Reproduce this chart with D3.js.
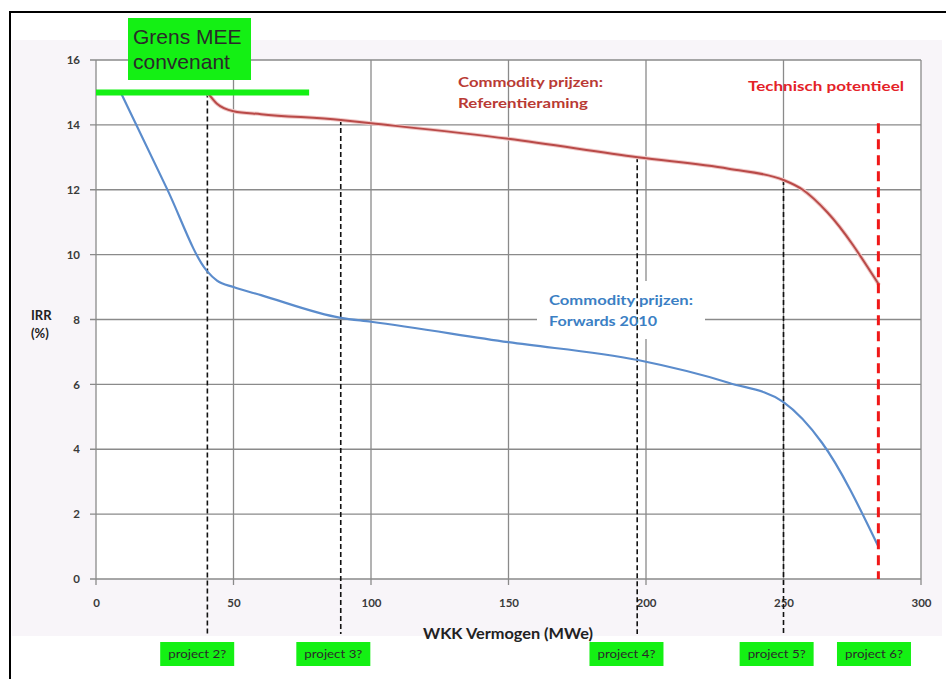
<!DOCTYPE html>
<html>
<head>
<meta charset="utf-8">
<script src="https://cdn.jsdelivr.net/npm/d3@7"></script>
<style>
  html, body { margin: 0; padding: 0; background: #ffffff; }
  svg { display: block; font-family: "Lato", "Open Sans", sans-serif; }
</style>
</head>
<body>
<svg id="chart" width="946" height="679"></svg>
<script>
// WKK capacity (MWe) vs IRR (%) under two commodity price scenarios
const xTicks = [0, 50, 100, 150, 200, 250, 300];
const yTicks = [0, 2, 4, 6, 8, 10, 12, 14, 16];

// Scenario "Referentieraming"
const refCapacity = [40.5, 44, 50, 60, 89, 100, 150, 197, 230, 250, 257, 266, 284.5];
const refIRR      = [15.0, 14.65, 14.42, 14.33, 14.15, 14.05, 13.57, 13.0, 12.65, 12.3, 12.0, 11.3, 9.1];

// Scenario "Forwards 2010"
const fwdCapacity = [9, 25.7, 40.3, 44, 50, 60, 89, 100, 150, 197, 230, 250, 264, 284.5];
const fwdIRR      = [15.0, 12.05, 9.5, 9.2, 9.0, 8.75, 8.05, 7.93, 7.3, 6.75, 6.05, 5.45, 4.2, 1.0];

// Candidate projects: dashed marker position, top of marker (IRR), label centre
const projectNames  = ["project 2?", "project 3?", "project 4?", "project 5?", "project 6?"];
const projectX      = [40.5, 89, 196.8, 250, null];
const projectTopIRR = [15.0, 14.15, 13.0, 12.3, null];
const projectLabelX = [36.8, 86.3, 192.9, 247.5, 282.9];

// Technical potential and MEE covenant limit
const technicalPotential = 284.5;
const technicalTopIRR = 14.05;
const meeLimitIRR = 15;
const meeLimitEnd = 77.5;

const svg = d3.select("#chart");

// frame and chart area
svg.append("rect").attr("x", 12).attr("y", 40).attr("width", 930).attr("height", 596)
  .attr("fill", "#f8f5f9");
svg.append("line").attr("x1", 10).attr("x2", 946).attr("y1", 12).attr("y2", 12)
  .attr("stroke", "#000").attr("stroke-width", 2);
svg.append("line").attr("x1", 10).attr("x2", 10).attr("y1", 11).attr("y2", 679)
  .attr("stroke", "#000").attr("stroke-width", 2);

const x = d3.scaleLinear().domain([0, 300]).range([96, 921]);
const y = d3.scaleLinear().domain([0, 16]).range([579, 60]);

svg.append("rect").attr("x", x(0)).attr("y", y(16))
  .attr("width", x(300) - x(0)).attr("height", y(0) - y(16)).attr("fill", "#ffffff");

// gridlines
const grid = svg.append("g").attr("stroke", "#8a8a8a").attr("stroke-width", 1.3);
grid.selectAll(".h").data(yTicks).join("line")
  .attr("x1", x(0) - 6).attr("x2", x(300)).attr("y1", d => y(d)).attr("y2", d => y(d));
grid.selectAll(".v").data(xTicks).join("line")
  .attr("x1", d => x(d)).attr("x2", d => x(d)).attr("y1", y(16)).attr("y2", y(0) + 6);

// axes labels
const yAxis = d3.axisLeft(y).tickValues(yTicks).tickSize(0).tickPadding(16);
svg.append("g").attr("transform", `translate(${x(0)},0)`).call(yAxis)
  .call(g => g.select(".domain").remove())
  .selectAll("text").style("font-size", "11.5px").style("font-weight", 700)
  .attr("fill", "#3a3a3a").style("font-family", "Lato, sans-serif");

const xAxis = d3.axisBottom(x).tickValues(xTicks).tickSize(0).tickPadding(20);
svg.append("g").attr("transform", `translate(0,${y(0)})`).call(xAxis)
  .call(g => g.select(".domain").remove())
  .selectAll("text").style("font-size", "11.5px").style("font-weight", 700)
  .attr("fill", "#3a3a3a").style("font-family", "Lato, sans-serif");

// white label panel behind the forwards caption
svg.append("rect").attr("x", 537).attr("y", 281).attr("width", 168).attr("height", 58)
  .attr("fill", "#ffffff");

// project marker lines
const markers = projectX.map((p, i) => ({ p, top: projectTopIRR[i] })).filter(d => d.p !== null);
svg.append("g").selectAll("line").data(markers).join("line")
  .attr("x1", d => x(d.p)).attr("x2", d => x(d.p))
  .attr("y1", d => y(d.top)).attr("y2", 634)
  .attr("stroke", "#111").attr("stroke-width", 1.6).attr("stroke-dasharray", "5,3");

// lines
const line = d3.line().x(d => x(d[0])).y(d => y(d[1])).curve(d3.curveMonotoneX);
const refData = refCapacity.map((c, i) => [c, refIRR[i]]);
const fwdData = fwdCapacity.map((c, i) => [c, fwdIRR[i]]);

svg.append("path").datum(refData).attr("d", line).attr("fill", "none")
  .attr("stroke", "#f0c8c7").attr("stroke-width", 4).attr("stroke-linecap", "round");
svg.append("path").datum(refData).attr("d", line).attr("fill", "none")
  .attr("stroke", "#b94a48").attr("stroke-width", 2);
svg.append("path").datum(fwdData).attr("d", line).attr("fill", "none")
  .attr("stroke", "#5b8ccc").attr("stroke-width", 2.2);

// technical potential limit
svg.append("line")
  .attr("x1", x(technicalPotential)).attr("x2", x(technicalPotential))
  .attr("y1", y(technicalTopIRR)).attr("y2", y(0))
  .attr("stroke", "#f01818").attr("stroke-width", 3).attr("stroke-dasharray", "10,6");

// MEE covenant limit
svg.append("line").attr("x1", x(0)).attr("x2", x(meeLimitEnd))
  .attr("y1", y(meeLimitIRR)).attr("y2", y(meeLimitIRR))
  .attr("stroke", "#14f014").attr("stroke-width", 6);

svg.append("rect").attr("x", 128).attr("y", 18).attr("width", 123).attr("height", 62)
  .attr("fill", "#14f014");
["Grens MEE", "convenant"].forEach((s, i) => {
  svg.append("text").attr("x", 133).attr("y", 44 + i * 25).text(s)
    .style("font-family", "'Liberation Sans', Arial, sans-serif").style("font-size", "21px")
    .attr("fill", "#2a2a2a");
});

// captions
function caption(tx, ty, str, color, width) {
  svg.append("text").attr("x", tx).attr("y", ty).text(str)
    .style("font-size", "14px").style("font-weight", 700).attr("fill", color)
    .attr("textLength", width).attr("lengthAdjust", "spacingAndGlyphs");
}
caption(458, 87, "Commodity prijzen:", "#b93a34", 145);
caption(458, 108, "Referentieraming", "#b93a34", 130);
caption(748, 91, "Technisch potentieel", "#e42228", 156);
caption(549, 305, "Commodity prijzen:", "#3b7fc4", 144);
caption(549, 326, "Forwards 2010", "#3b7fc4", 108);

// axis titles
svg.append("text").attr("x", 508).attr("y", 639).attr("text-anchor", "middle")
  .text("WKK Vermogen (MWe)").style("font-size", "15px").style("font-weight", 700).attr("fill", "#222")
  .attr("textLength", 170).attr("lengthAdjust", "spacingAndGlyphs");
["IRR", "(%)"].forEach((s, i) => {
  svg.append("text").attr("x", 31).attr("y", 320 + i * 18).text(s)
    .style("font-size", "13px").style("font-weight", 700).attr("fill", "#222");
});

// project tags
const tags = svg.append("g").selectAll("g")
  .data(projectNames.map((n, i) => ({ n, cx: projectLabelX[i] })))
  .join("g").attr("transform", d => `translate(${x(d.cx)},654)`);
tags.append("rect").attr("x", -37).attr("y", -12).attr("width", 74).attr("height", 24)
  .attr("fill", "#14f014");
tags.append("text").attr("text-anchor", "middle").attr("y", 4).text(d => d.n)
  .style("font-size", "11.5px").attr("fill", "#2a2a2a")
  .attr("textLength", 58).attr("lengthAdjust", "spacingAndGlyphs");
</script>
</body>
</html>
